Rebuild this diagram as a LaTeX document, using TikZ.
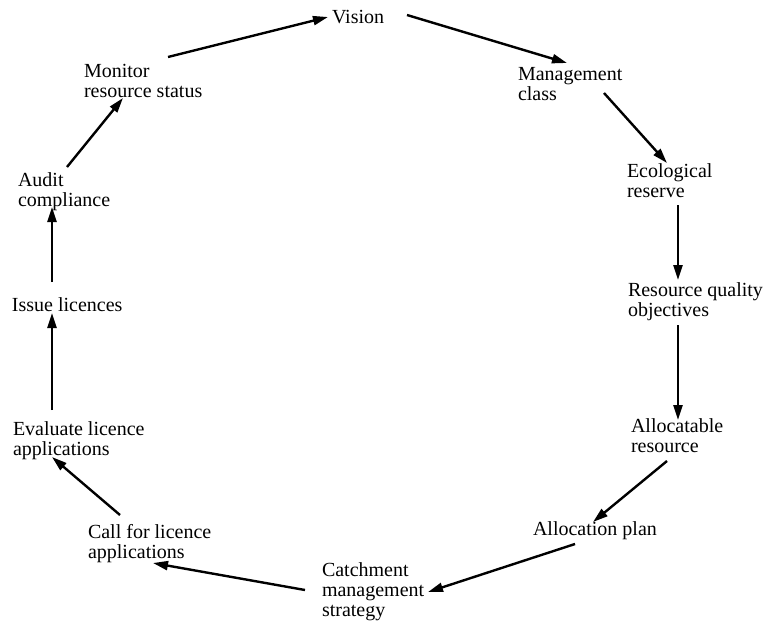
\documentclass[tikz,border=0pt]{standalone}
\usepackage{fontspec}
\setmainfont{Liberation Serif}
\usetikzlibrary{arrows.meta}

% left-aligned block whose base is the first line's baseline
\newcommand{\stagetext}[1]{\begin{tabular}[t]{@{}l@{}}#1\end{tabular}}

\tikzset{
  stage/.style={anchor=base west, inner sep=0pt, outer sep=0pt,
                font=\fontsize{20}{20}\selectfont},
  flow/.style={line width=2.4pt, -{Triangle[length=15pt,width=9pt]}},
}

\begin{document}
\begin{tikzpicture}[x=1pt, y=-1pt]
\useasboundingbox (0,0) rectangle (778,624);

% stages of the cycle (placed by first-line baseline)
\node[stage] (vis)   at (332,23)  {\stagetext{Vision}};
\node[stage] (mgmt)  at (518,80)  {\stagetext{Management\\class}};
\node[stage] (eco)   at (627,177) {\stagetext{Ecological\\reserve}};
\node[stage] (rqo)   at (628,296) {\stagetext{Resource quality\\objectives}};
\node[stage] (alr)   at (631,432) {\stagetext{Allocatable\\resource}};
\node[stage] (plan)  at (533,535) {\stagetext{Allocation plan}};
\node[stage] (catch) at (322,576) {\stagetext{Catchment\\management\\strategy}};
\node[stage] (call)  at (88,538)  {\stagetext{Call for licence\\applications}};
\node[stage] (eval)  at (13,435)  {\stagetext{Evaluate licence\\applications}};
\node[stage] (issue) at (12,311)  {\stagetext{Issue licences}};
\node[stage] (audit) at (18,186)  {\stagetext{Audit\\compliance}};
\node[stage] (mon)   at (84,77)   {\stagetext{Monitor\\resource status}};

% connectors around the cycle
\draw[flow] ([shift={(84,-20)}]mon.base west)   -- ([shift={(-4,-6)}]vis.base west);
\draw[flow] ([shift={(75,-8)}]vis.base west)    -- ([shift={(49,-17)}]mgmt.base west);
\draw[flow] ([shift={(86,13)}]mgmt.base west)   -- ([shift={(40,-14)}]eco.base west);
\draw[flow] ([shift={(51,28)}]eco.base west)    -- ([shift={(50,-16)}]rqo.base west);
\draw[flow] ([shift={(50,29)}]rqo.base west)    -- ([shift={(47,-12)}]alr.base west);
\draw[flow] ([shift={(36,29)}]alr.base west)    -- ([shift={(60,-13)}]plan.base west);
\draw[flow] ([shift={(42,9)}]plan.base west)    -- ([shift={(106,16)}]catch.base west);
\draw[flow] ([shift={(-17,14)}]catch.base west) -- ([shift={(65,25)}]call.base west);
\draw[flow] ([shift={(32,-23)}]call.base west)  -- ([shift={(39,22)}]eval.base west);
\draw[flow] ([shift={(39,-25)}]eval.base west)  -- ([shift={(40,2)}]issue.base west);
\draw[flow] ([shift={(40,-29)}]issue.base west) -- ([shift={(34,21)}]audit.base west);
\draw[flow] ([shift={(49,-19)}]audit.base west) -- ([shift={(39,21)}]mon.base west);
\end{tikzpicture}
\end{document}
